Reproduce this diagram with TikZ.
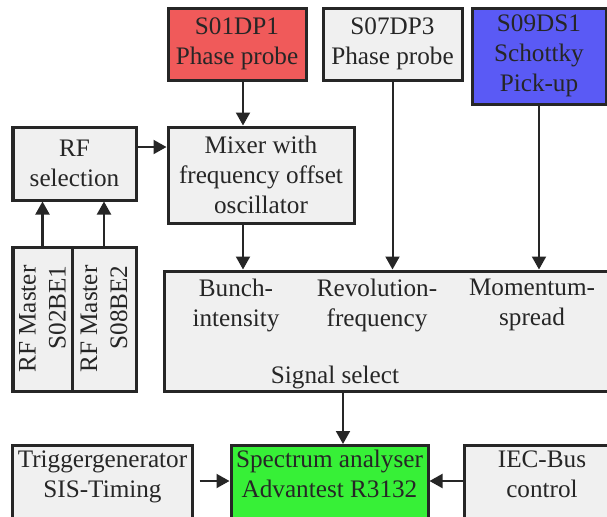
\documentclass[tikz,border=0pt]{standalone}
\usepackage{fontspec}
\newfontfamily\diagfont{Liberation Serif}
\usetikzlibrary{arrows.meta}
\definecolor{boxgray}{RGB}{240,240,240}
\definecolor{probered}{RGB}{240,90,90}
\definecolor{pickblue}{RGB}{90,90,245}
\definecolor{anagreen}{RGB}{55,240,55}
\definecolor{edgegray}{RGB}{38,38,38}

\begin{document}
\begin{tikzpicture}[x=0.5pt, y=-0.5pt,
    every node/.style={font=\diagfont\fontsize{12.6}{15}\selectfont, text=black!85, align=center},
    box/.style={draw=edgegray, line width=1.5pt, fill=boxgray, inner sep=1pt},
    bottombox/.style={box, anchor=north, inner sep=2.5pt, text depth=30pt},
    arr/.style={draw=edgegray, line width=1pt, -{Triangle[length=6.5pt,width=7pt]}}]
    \useasboundingbox (0,0) rectangle (607,516);
    \clip (0,0) rectangle (607,516);

    % pick-ups
    \node[box, fill=probered, minimum width=69pt, minimum height=36pt] (dp1) at (237,44) {S01DP1\\Phase probe};
    \node[box, minimum width=69.5pt, minimum height=36pt] (dp3) at (392.5,44) {S07DP3\\Phase probe};
    \node[box, fill=pickblue, minimum width=67pt, minimum height=48pt] (ds1) at (539,56) {S09DS1\\Schottky\\Pick-up};

    \node[box, minimum width=61.5pt, minimum height=36.5pt] (rfsel) at (74.5,163.5) {RF\\selection};
    \node[box, minimum width=93pt, minimum height=48pt] (mix) at (261,175) {Mixer with\\frequency offset\\oscillator};
    \node[box, rotate=90, align=right, minimum width=72pt, minimum height=29.5pt] (be1) at (42.5,319) {RF Master\\S02BE1};
    \node[box, rotate=90, align=right, minimum width=72pt, minimum height=32pt] (be2) at (104,319) {RF Master\\S08BE2};

    % signal select
    \node[box, minimum width=228pt, minimum height=60pt] (sel) at (392,331) {};
    \node (bunch) at (236,305) {Bunch-\\intensity};
    \node (revfreq) at (377,305) {Revolution-\\frequency};
    \node (momspread) at (532,305) {Momentum-\\spread};
    \node (selname) at (335,377) {Signal select};

    \node[bottombox, minimum width=89.5pt] (trig) at (102.5,444) {Triggergenerator\\SIS-Timing};
    \node[bottombox, fill=anagreen, minimum width=98.5pt] (spec) at (329.5,444) {Spectrum analyser\\Advantest R3132};
    \node[bottombox, minimum width=78pt] (iec) at (542,444) {IEC-Bus\\control};

    \coordinate (ax) at (243,0);
    \coordinate (sx) at (343,0);
    \coordinate (ry) at (0,147);
    \coordinate (ty) at (0,481);

    \draw[arr] (dp1.south -| ax) -- (mix.north -| ax);
    \draw[arr] (rfsel.east |- ry) -- (mix.west |- ry);
    \draw[arr] (be1.east) -- (rfsel.south -| be1.east);
    \draw[arr] (be2.east) -- (rfsel.south -| be2.east);
    \draw[arr] (mix.south -| ax) -- (sel.north -| ax);
    \draw[arr] (dp3.south) -- (sel.north -| dp3.south);
    \draw[arr] (ds1.south) -- (sel.north -| ds1.south);
    \draw[arr] (sel.south -| sx) -- (spec.north -| sx);
    \draw[arr, shorten <=3pt] (trig.east |- ty) -- (spec.west |- ty);
    \draw[arr] (iec.west |- ty) -- (spec.east |- ty);
\end{tikzpicture}
\end{document}
